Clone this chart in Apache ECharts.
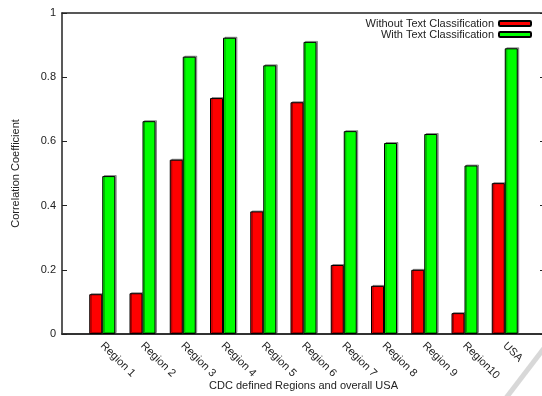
<!DOCTYPE html>
<html>
<head>
<meta charset="utf-8">
<script src="https://cdn.jsdelivr.net/npm/echarts@6/dist/echarts.min.js"></script>
<style>html,body{margin:0;padding:0;background:#fff}#c{width:542px;height:396px}</style>
</head>
<body>
<div id="c"></div>
<script>
const categories = ['Region 1','Region 2','Region 3','Region 4','Region 5','Region 6','Region 7','Region 8','Region 9','Region10','USA'];
const withoutText = [0.124, 0.127, 0.543, 0.735, 0.382, 0.722, 0.215, 0.150, 0.200, 0.065, 0.470];
const withText = [0.492, 0.663, 0.864, 0.923, 0.837, 0.910, 0.632, 0.595, 0.623, 0.525, 0.890];
const yTicks = [0, 0.2, 0.4, 0.6, 0.8, 1];

const FONT = '"Liberation Sans", Arial, sans-serif';
const TXT = '#222';
const chart = echarts.init(document.getElementById('c'), null, {renderer: 'canvas'});
const toPairs = arr => arr.map((v, i) => [i + 1, v]);
const barStyle = c => ({color: c, borderColor: '#000', borderWidth: 1, shadowColor: 'rgba(0,0,0,0.35)', shadowOffsetX: 1.5, shadowOffsetY: -1, shadowBlur: 0});
chart.setOption({
  animation: false,
  textStyle: {fontFamily: FONT},
  grid: {left: 62, right: -3, top: 13, bottom: 62, containLabel: false, outerBoundsMode: 'none'},
  legend: {
    orient: 'vertical', right: 10, top: 18, align: 'right', padding: 0,
    itemWidth: 32, itemHeight: 5, itemGap: 0,
    textStyle: {fontSize: 11, color: TXT, fontFamily: FONT, lineHeight: 10.5, padding: [0, 0, 0, 0]},
    data: ['Without Text Classification', 'With Text Classification']
  },
  xAxis: [{
    type: 'value', min: 0, max: 12, interval: 1,
    name: 'CDC defined Regions and overall USA', nameLocation: 'middle', nameGap: 46, nameMoveOverlap: false,
    nameTextStyle: {fontSize: 11, color: TXT, fontFamily: FONT},
    axisLine: {show: true, onZero: false, lineStyle: {color: '#333', width: 2}},
    axisTick: {show: false},
    splitLine: {show: false},
    axisLabel: {
      rotate: -45, fontSize: 11, color: TXT, fontFamily: FONT, margin: 10,
      showMinLabel: true, showMaxLabel: true,
      formatter: v => categories[v - 1] || ''
    }
  }, {
    type: 'value', min: 0, max: 12, position: 'top',
    axisLine: {show: true, onZero: false, lineStyle: {color: '#222', width: 1.5}},
    axisTick: {show: false}, axisLabel: {show: false}, splitLine: {show: false}
  }],
  yAxis: [{
    type: 'value', min: 0, max: 1, interval: 0.2,
    name: 'Correlation Coefficient', nameLocation: 'middle', nameGap: 41, nameMoveOverlap: false,
    nameTextStyle: {fontSize: 11, color: TXT, fontFamily: FONT},
    axisLine: {show: true, onZero: false, lineStyle: {color: '#222', width: 1.5}},
    axisTick: {show: true, inside: true, length: 5, lineStyle: {color: '#222'}},
    splitLine: {show: false},
    axisLabel: {fontSize: 11, color: TXT, fontFamily: FONT, margin: 6,
      formatter: v => { const t = yTicks.find(x => Math.abs(x - v) < 1e-9); return t === undefined ? '' : String(t); }}
  }, {
    type: 'value', min: 0, max: 1, interval: 0.2, position: 'right',
    axisLine: {show: false, onZero: false},
    axisTick: {show: true, inside: true, length: 5, lineStyle: {color: '#222'}},
    axisLabel: {show: false}, splitLine: {show: false}
  }],
  series: [{
    name: 'Without Text Classification', type: 'bar', barWidth: 13, barGap: '0%',
    itemStyle: barStyle('#ff0000'), data: toPairs(withoutText)
  }, {
    name: 'With Text Classification', type: 'bar', barWidth: 13, barGap: '0%',
    itemStyle: barStyle('#00ff00'), data: toPairs(withText)
  }],
  graphic: [{
    type: 'line', silent: true, z: 100,
    shape: {x1: 506, y1: 398, x2: 545, y2: 347},
    style: {stroke: 'rgba(200,200,200,0.7)', lineWidth: 5}
  }]
});
</script>
</body>
</html>
